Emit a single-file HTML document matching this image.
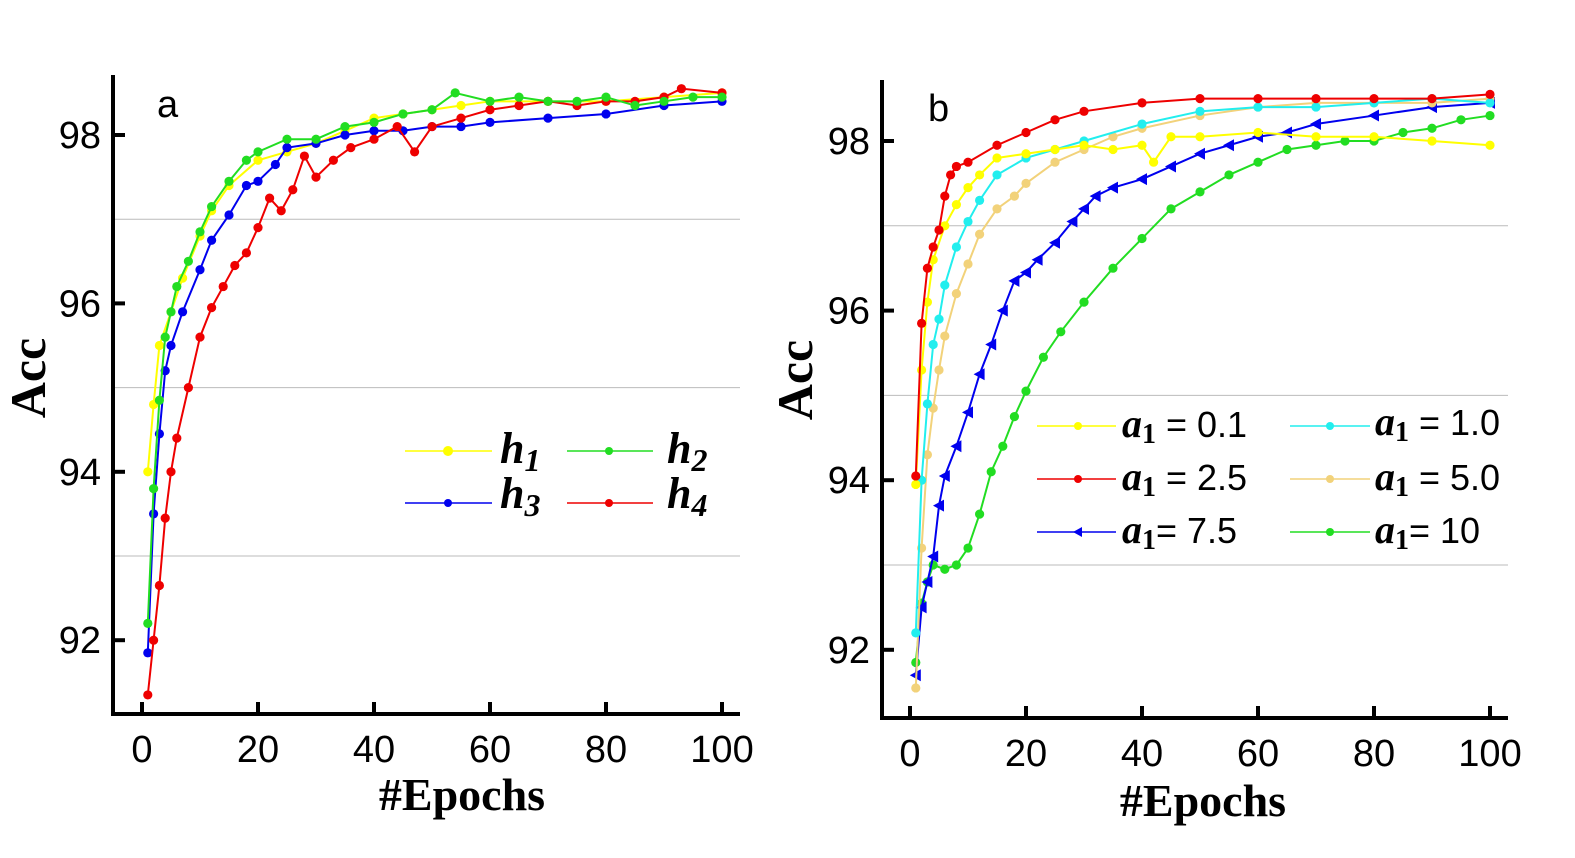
<!DOCTYPE html>
<html><head><meta charset="utf-8"><style>
html,body{margin:0;padding:0;background:#fff;}
svg text{font-family:"Liberation Sans",sans-serif;}
.ser{font-family:"Liberation Serif",serif;font-weight:bold;}
</style></head><body>
<svg id="chart" width="1575" height="853" viewBox="0 0 1575 853" xmlns="http://www.w3.org/2000/svg">
<defs><clipPath id="clipA"><rect x="0" y="0" width="711" height="853"/></clipPath></defs>
<g id="pa"></g>
<g id="pb"></g>
</svg>
<script>
// ---- data: panel a ----
const aX_h1=[1,2,3,5,7,10,12,15,20,25,30,35,40,45,50,55,60,70,80,90,100];
const aY_h1=[94.0,94.8,95.5,95.9,96.3,96.8,97.1,97.4,97.7,97.8,97.9,98.05,98.2,98.25,98.3,98.35,98.4,98.4,98.4,98.45,98.5];
const aX_h2=[1,2,3,4,5,6,8,10,12,15,18,20,25,30,35,40,45,50,54,60,65,70,75,80,85,90,95,100];
const aY_h2=[92.2,93.8,94.85,95.6,95.9,96.2,96.5,96.85,97.15,97.45,97.7,97.8,97.95,97.95,98.1,98.15,98.25,98.3,98.5,98.4,98.45,98.4,98.4,98.45,98.35,98.4,98.45,98.45];
const aX_h3=[1,2,3,4,5,7,10,12,15,18,20,23,25,30,35,40,45,50,55,60,70,80,90,100];
const aY_h3=[91.85,93.5,94.45,95.2,95.5,95.9,96.4,96.75,97.05,97.4,97.45,97.65,97.85,97.9,98.0,98.05,98.05,98.1,98.1,98.15,98.2,98.25,98.35,98.4];
const aX_h4=[1,2,3,4,5,6,8,10,12,14,16,18,20,22,24,26,28,30,33,36,40,44,47,50,55,60,65,70,75,80,85,90,93,100];
const aY_h4=[91.35,92.0,92.65,93.45,94.0,94.4,95.0,95.6,95.95,96.2,96.45,96.6,96.9,97.25,97.1,97.35,97.75,97.5,97.7,97.85,97.95,98.1,97.8,98.1,98.2,98.3,98.35,98.4,98.35,98.4,98.4,98.45,98.55,98.5];
// ---- data: panel b ----
const bX_01=[1,2,3,4,6,8,10,12,15,20,25,30,35,40,42,45,50,60,70,80,90,100];
const bY_01=[93.95,95.3,96.1,96.6,97.0,97.25,97.45,97.6,97.8,97.85,97.9,97.95,97.9,97.95,97.75,98.05,98.05,98.1,98.05,98.05,98.0,97.95];
const bX_10=[1,2,3,4,5,6,8,10,12,15,20,25,30,40,50,60,70,80,90,100];
const bY_10=[92.2,94.0,94.9,95.6,95.9,96.3,96.75,97.05,97.3,97.6,97.8,97.9,98.0,98.2,98.35,98.4,98.4,98.45,98.5,98.45];
const bX_25=[1,2,3,4,5,6,7,8,10,15,20,25,30,40,50,60,70,80,90,100];
const bY_25=[94.05,95.85,96.5,96.75,96.95,97.35,97.6,97.7,97.75,97.95,98.1,98.25,98.35,98.45,98.5,98.5,98.5,98.5,98.5,98.55];
const bX_50=[1,2,3,4,5,6,8,10,12,15,18,20,25,30,35,40,50,60,70,80,90,100];
const bY_50=[91.55,93.2,94.3,94.85,95.3,95.7,96.2,96.55,96.9,97.2,97.35,97.5,97.75,97.9,98.05,98.15,98.3,98.4,98.45,98.45,98.45,98.5];
const bX_75=[1,2,3,4,5,6,8,10,12,14,16,18,20,22,25,28,30,32,35,40,45,50,55,60,65,70,80,90,100];
const bY_75=[91.7,92.5,92.8,93.1,93.7,94.05,94.4,94.8,95.25,95.6,96.0,96.35,96.45,96.6,96.8,97.05,97.2,97.35,97.45,97.55,97.7,97.85,97.95,98.05,98.1,98.2,98.3,98.4,98.45];
const bX_100=[1,2,3,4,6,8,10,12,14,16,18,20,23,26,30,35,40,45,50,55,60,65,70,75,80,85,90,95,100];
const bY_100=[91.85,92.55,92.8,93.0,92.95,93.0,93.2,93.6,94.1,94.4,94.75,95.05,95.45,95.75,96.1,96.5,96.85,97.2,97.4,97.6,97.75,97.9,97.95,98.0,98.0,98.1,98.15,98.25,98.3];
const xTicks=[0,20,40,60,80,100];
const yTicks=[92,94,96,98];
const gridVals=[93,95,97];

const NS='http://www.w3.org/2000/svg';
function mk(parent,tag,attrs,text){const e=document.createElementNS(NS,tag);for(const k in attrs)e.setAttribute(k,attrs[k]);if(text!==undefined)e.textContent=text;parent.appendChild(e);return e;}

function panel(g,cfg){
  const sx=v=>cfg.x0+(v-0)*(cfg.x100-cfg.x0)/100;
  const sy=v=>cfg.y98+(98-v)*cfg.ppu;
  gridVals.forEach(v=>{const l=mk(g,'line',{x1:cfg.axX,x2:cfg.right,y1:sy(v),y2:sy(v),stroke:'#bbb','stroke-width':1});
    
    });
  cfg.series.forEach(s=>{
    const sg=mk(g,'g',{});
    
    
    const pts=s.xs.map((x,i)=>sx(x)+','+sy(s.ys[i])).join(' ');
    mk(sg,'polyline',{points:pts,fill:'none',stroke:s.color,'stroke-width':2});
    s.xs.forEach((x,i)=>{
      let m;
      if(s.tri){const cx=sx(x),cy=sy(s.ys[i]);m=mk(sg,'polygon',{points:`${cx-6},${cy} ${cx+5},${cy-6} ${cx+5},${cy+6}`,fill:s.color});}
      else m=mk(sg,'circle',{cx:sx(x),cy:sy(s.ys[i]),r:4.6,fill:s.color});
      
      
    });
  });
  const ax=mk(g,'path',{d:`M${cfg.axX},${cfg.top} V${cfg.axY} H${cfg.right}`,fill:'none',stroke:'#000','stroke-width':4});
  
  
  xTicks.forEach(v=>{mk(g,'line',{x1:sx(v),x2:sx(v),y1:cfg.axY,y2:cfg.axY-12,stroke:'#000','stroke-width':4});
    const t=mk(g,'text',{x:sx(v),y:cfg.axY+48,'text-anchor':'middle','font-size':38},String(v));
    
    });
  yTicks.forEach(v=>{mk(g,'line',{x1:cfg.axX,x2:cfg.axX+12,y1:sy(v),y2:sy(v),stroke:'#000','stroke-width':4});
    const t=mk(g,'text',{x:cfg.axX-12,y:sy(v)+13,'text-anchor':'end','font-size':38},String(v));
    
    });
}

panel(document.getElementById('pa'),{x0:142,x100:722,y98:135,ppu:84.2,axX:113,axY:714,top:75,right:740,series:[
 {name:'series-h1',xs:aX_h1,ys:aY_h1,color:'#ffff00'},
 {name:'series-h3',xs:aX_h3,ys:aY_h3,color:'#0000ee'},
 {name:'series-h4',xs:aX_h4,ys:aY_h4,color:'#ee0000'},
 {name:'series-h2',xs:aX_h2,ys:aY_h2,color:'#22dd22'}]});
panel(document.getElementById('pb'),{x0:910,x100:1490,y98:141,ppu:84.8,axX:882,axY:718,top:80,right:1508,series:[
 {name:'series-a1-10',xs:bX_100,ys:bY_100,color:'#22dd22'},
 {name:'series-a1-7.5',xs:bX_75,ys:bY_75,color:'#0000ee',tri:true},
 {name:'series-a1-5.0',xs:bX_50,ys:bY_50,color:'#f2d27a'},
 {name:'series-a1-1.0',xs:bX_10,ys:bY_10,color:'#22eeee'},
 {name:'series-a1-0.1',xs:bX_01,ys:bY_01,color:'#ffff00'},
 {name:'series-a1-2.5',xs:bX_25,ys:bY_25,color:'#ee0000'}]});
</script>
<svg style="position:absolute;left:0;top:0" width="1575" height="853" xmlns="http://www.w3.org/2000/svg">
<defs><clipPath id="clipL"><rect x="0" y="0" width="711" height="853"/></clipPath></defs>
<text x="157" y="117" font-size="38">a</text>
<text x="928" y="121" font-size="38">b</text>
<text class="ser" transform="translate(45,378) rotate(-90)" text-anchor="middle" font-size="50">Acc</text>
<text class="ser" transform="translate(812,380) rotate(-90)" text-anchor="middle" font-size="50">Acc</text>
<text class="ser" x="462" y="810" text-anchor="middle" font-size="46">#Epochs</text>
<text class="ser" x="1203" y="816" text-anchor="middle" font-size="46">#Epochs</text>
<g clip-path="url(#clipL)">
 <g><line x1="405" x2="492" y1="451" y2="451" stroke="#ffff00" stroke-width="1.6"/><circle cx="448" cy="451" r="5" fill="#ffff00"/><text class="ser" font-style="italic" x="500" y="463" font-size="44">h<tspan font-size="32" dy="8">1</tspan></text></g>
 <g><line x1="567" x2="653" y1="451" y2="451" stroke="#22dd22" stroke-width="1.6"/><circle cx="609" cy="451" r="4" fill="#22dd22"/><text class="ser" font-style="italic" x="667" y="463" font-size="44">h<tspan font-size="32" dy="8">2</tspan></text></g>
 <g><line x1="405" x2="492" y1="503" y2="503" stroke="#0000ee" stroke-width="1.6"/><circle cx="448" cy="503" r="4" fill="#0000ee"/><text class="ser" font-style="italic" x="500" y="508" font-size="44">h<tspan font-size="32" dy="8">3</tspan></text></g>
 <g><line x1="567" x2="653" y1="503" y2="503" stroke="#ee0000" stroke-width="1.6"/><circle cx="609" cy="503" r="4" fill="#ee0000"/><text class="ser" font-style="italic" x="667" y="508" font-size="44">h<tspan font-size="32" dy="8">4</tspan></text></g>
</g>
<g font-size="36">
 <g><line x1="1037" x2="1116" y1="426" y2="426" stroke="#ffff00" stroke-width="1.6"/><circle cx="1078" cy="426" r="4" fill="#ffff00"/><text x="1122" y="437"><tspan class="ser" font-style="italic" font-size="40">a</tspan><tspan class="ser" font-size="28" dy="6">1</tspan><tspan dy="-6"> = 0.1</tspan></text></g>
 <g><line x1="1290" x2="1370" y1="426" y2="426" stroke="#22eeee" stroke-width="1.6"/><circle cx="1330" cy="426" r="4" fill="#22eeee"/><text x="1375" y="435"><tspan class="ser" font-style="italic" font-size="40">a</tspan><tspan class="ser" font-size="28" dy="6">1</tspan><tspan dy="-6"> = 1.0</tspan></text></g>
 <g><line x1="1037" x2="1116" y1="479" y2="479" stroke="#ee0000" stroke-width="1.6"/><circle cx="1078" cy="479" r="4" fill="#ee0000"/><text x="1122" y="490"><tspan class="ser" font-style="italic" font-size="40">a</tspan><tspan class="ser" font-size="28" dy="6">1</tspan><tspan dy="-6"> = 2.5</tspan></text></g>
 <g><line x1="1290" x2="1370" y1="479" y2="479" stroke="#f2d27a" stroke-width="1.6"/><circle cx="1330" cy="479" r="4" fill="#f2d27a"/><text x="1375" y="490"><tspan class="ser" font-style="italic" font-size="40">a</tspan><tspan class="ser" font-size="28" dy="6">1</tspan><tspan dy="-6"> = 5.0</tspan></text></g>
 <g><line x1="1037" x2="1116" y1="532" y2="532" stroke="#0000ee" stroke-width="1.6"/><polygon points="1073,532 1082,527 1082,537" fill="#0000ee"/><text x="1122" y="543"><tspan class="ser" font-style="italic" font-size="40">a</tspan><tspan class="ser" font-size="28" dy="6">1</tspan><tspan dy="-6">= 7.5</tspan></text></g>
 <g><line x1="1290" x2="1370" y1="532" y2="532" stroke="#22dd22" stroke-width="1.6"/><circle cx="1330" cy="532" r="4" fill="#22dd22"/><text x="1375" y="543"><tspan class="ser" font-style="italic" font-size="40">a</tspan><tspan class="ser" font-size="28" dy="6">1</tspan><tspan dy="-6">= 10</tspan></text></g>
</g>
</svg>
</body></html>
